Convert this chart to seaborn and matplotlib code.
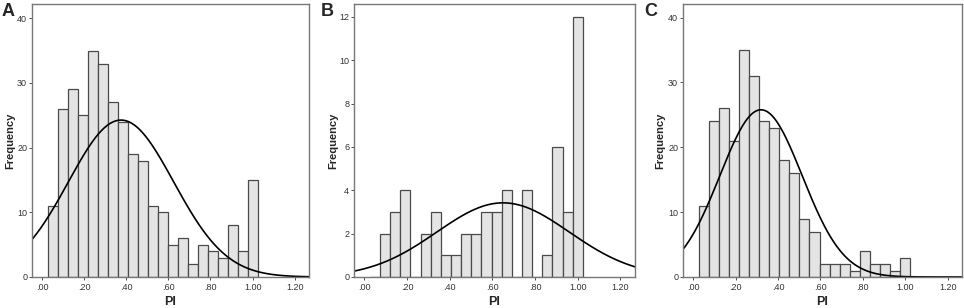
import numpy as np
import pandas as pd
import matplotlib.pyplot as plt
import seaborn as sns

# Bin layout shared by the three panels (SPSS histograms of PI)
bin_start = 0.026
bin_width = 0.0475
n_bins = 21

# Counts per bin
counts_a = [11, 26, 29, 25, 35, 33, 27, 24, 19, 18, 11, 10, 5, 6, 2, 5, 4, 3, 8, 4, 15]
counts_b = [0, 2, 3, 4, 0, 2, 3, 1, 1, 2, 2, 3, 3, 4, 0, 4, 0, 1, 6, 3, 12]
counts_c = [11, 24, 26, 21, 35, 31, 24, 23, 18, 16, 9, 7, 2, 2, 2, 1, 4, 2, 2, 1, 3]

# Normal curve parameters (mean, sd)
normal_a = (0.375, 0.25)
normal_b = (0.65, 0.31)
normal_c = (0.32, 0.194)

panels = ["A", "B", "C"]
y_ticks = {"A": [0, 10, 20, 30, 40], "B": [0, 2, 4, 6, 8, 10, 12], "C": [0, 10, 20, 30, 40]}
y_max = {"A": 42.2, "B": 12.6, "C": 42.1}
x_ticks = [0.0, 0.2, 0.4, 0.6, 0.8, 1.0, 1.2]
x_labels = [".00", ".20", ".40", ".60", ".80", "1.00", "1.20"]

sns.set_theme(style="white")
plt.rcParams["font.family"] = ["Liberation Sans", "DejaVu Sans"]

edges = bin_start + bin_width * np.arange(n_bins + 1)
centers = (edges[:-1] + edges[1:]) / 2

fig = plt.figure(figsize=(9.64, 3.08), dpi=100)
W, H = 964, 308
# axes boxes in pixels: left, right, top, bottom
boxes = {"A": (32, 309, 4, 277), "B": (354, 635, 4, 277), "C": (683, 962, 4, 277)}
letter_x = {"A": 2, "B": 321, "C": 644}
ylabel_x = {"A": 10, "B": 333, "C": 660}

data = {"A": (counts_a, normal_a), "B": (counts_b, normal_b), "C": (counts_c, normal_c)}

for p in panels:
    l, r, t, b = boxes[p]
    ax = fig.add_axes([l / W, 1 - b / H, (r - l) / W, (b - t) / H])
    counts, (mu, sd) = data[p]
    df = pd.DataFrame({"PI": centers, "n": counts})
    sns.histplot(data=df, x="PI", weights="n", bins=n_bins,
                 binrange=(float(edges[0]), float(edges[-1])), ax=ax,
                 color="#e4e4e4", edgecolor="#4a4a4a", linewidth=0.9, alpha=1)
    xs = np.linspace(-0.06, 1.28, 300)
    ys = sum(counts) * bin_width * np.exp(-0.5 * ((xs - mu) / sd) ** 2) / (sd * np.sqrt(2 * np.pi))
    sns.lineplot(x=xs, y=ys, ax=ax, color="black", linewidth=1.2)

    ax.set_xlim(-0.048, 1.268)
    ax.set_ylim(0, y_max[p])
    ax.set_xticks(x_ticks)
    ax.set_xticklabels(x_labels)
    ax.set_yticks(y_ticks[p])
    ax.tick_params(axis="both", labelsize=6.5, colors="#333333", length=2, width=0.6,
                   direction="out", left=True, bottom=True, pad=1.5)
    ax.tick_params(axis="x", pad=2)
    for s in ax.spines.values():
        s.set_color("#777777")
        s.set_linewidth(1.0)
    ax.set_xlabel("")
    ax.set_ylabel("")
    fig.text(((l + r) / 2) / W, 1 - 302 / H, "PI", fontsize=9, fontweight="bold",
             ha="center", va="center")
    fig.text(ylabel_x[p] / W, 1 - ((t + b) / 2) / H, "Frequency", rotation=90,
             fontsize=8, fontweight="bold", ha="center", va="center")
    fig.text(letter_x[p] / W, 1 - 12 / H, p, fontsize=13, fontweight="bold",
             ha="left", va="center")

plt.savefig("out.png", dpi=100)
plt.close()
